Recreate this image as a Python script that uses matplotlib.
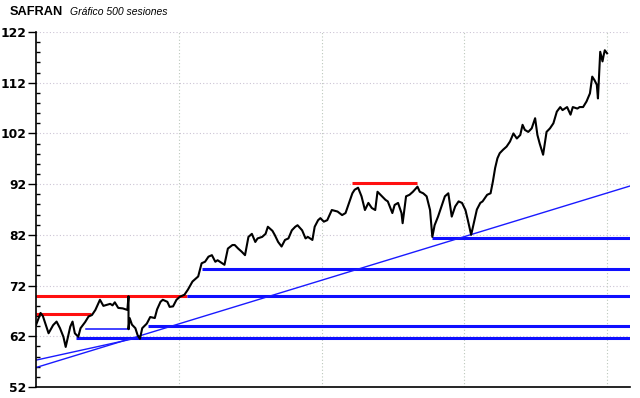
import matplotlib.pyplot as plt
from matplotlib.ticker import MultipleLocator
import numpy as np

#Price data (session number, close)
sessions = [0, 4, 6, 11, 15, 18, 21, 24, 26, 30, 32, 34, 37, 39, 43, 46, 49, 52, 56, 59,
            62, 65, 67, 69, 72, 76, 80, 81, 81, 82, 84, 87, 89, 91, 93, 97, 100, 104, 106, 109,
            111, 115, 117, 120, 123, 126, 130, 133, 137, 139, 142, 145, 148, 151, 154, 157, 159, 163, 165, 168,
            172, 174, 177, 180, 183, 186, 189, 192, 194, 198, 201, 203, 207, 209, 212, 215, 218, 221, 224, 227,
            229, 233, 236, 238, 242, 244, 247, 249, 252, 255, 259, 264, 268, 271, 273, 277, 279, 282, 285, 288,
            291, 294, 297, 299, 303, 306, 308, 312, 314, 317, 320, 321, 324, 327, 330, 334, 336, 339, 342, 345,
            347, 349, 352, 356, 358, 361, 364, 367, 370, 373, 376, 378, 381, 383, 386, 389, 391, 395, 398, 400,
            402, 404, 406, 409, 412, 415, 418, 421, 424, 426, 428, 431, 434, 437, 439, 441, 444, 447, 450, 453,
            456, 459, 461, 465, 468, 470, 474, 476, 479, 482, 485, 487, 489, 491, 492, 494, 496, 497, 498, 500]
close = [64.2, 66.6, 66.0, 62.6, 64.2, 64.9, 63.6, 61.9, 59.9, 63.9, 64.9, 62.6, 61.9, 63.6, 64.8, 65.9, 66.2, 67.2, 69.2, 68.0,
         68.2, 68.4, 68.1, 68.7, 67.6, 67.5, 67.2, 69.9, 63.4, 65.6, 64.3, 63.6, 62.2, 61.5, 63.6, 64.5, 65.8, 65.6, 67.3, 68.8,
         69.2, 68.8, 67.8, 67.9, 69.2, 69.8, 70.2, 71.2, 72.8, 73.2, 73.8, 76.4, 76.7, 77.7, 78.0, 76.7, 77.0, 76.4, 76.1, 79.3,
         80.0, 80.0, 79.3, 78.7, 78.0, 81.6, 82.2, 80.6, 81.3, 81.6, 82.2, 83.6, 82.8, 82.0, 80.6, 79.7, 81.0, 81.3, 82.9, 83.6,
         83.9, 82.9, 81.3, 81.6, 81.0, 83.6, 84.9, 85.3, 84.6, 84.9, 86.9, 86.6, 85.9, 86.3, 87.6, 90.2, 90.9, 91.3, 89.6, 86.9,
         88.3, 87.3, 86.9, 90.5, 89.6, 88.9, 88.6, 86.3, 87.9, 88.3, 86.3, 84.3, 89.6, 89.9, 90.5, 91.5, 90.5, 90.2, 89.6, 86.9,
         81.6, 83.9, 85.6, 88.3, 89.6, 90.2, 85.6, 87.6, 88.6, 88.3, 86.9, 85.0, 82.0, 84.0, 87.0, 88.3, 88.6, 89.9, 90.2, 92.5,
         95.2, 97.1, 98.1, 98.8, 99.4, 100.4, 102.0, 101.0, 101.7, 103.7, 102.7, 102.3, 103.0, 105.0, 101.7, 100.0, 97.8, 102.3, 103.0, 104.0,
         106.3, 107.2, 106.6, 107.2, 105.7, 107.2, 106.9, 107.2, 107.2, 108.3, 109.9, 113.2, 112.5, 111.6, 108.9, 118.1, 116.2, 117.4, 118.4, 117.8]

#Resistances (red): level, start, end
res_level = [66.3, 69.9, 92.3]
res_start = [0, 0, 277]
res_end = [48, 132, 334]

#Supports (blue): level, start session
sup_level = [61.66, 63.96, 69.9, 75.2, 81.3]
sup_start = [35, 98, 132, 145, 347]

#Trend lines: (start session, start value, end session, end value)
trend_s0 = [0, 0]
trend_v0 = [55.84, 57.3]
trend_s1 = [520, 89]
trend_v1 = [91.63, 61.7]

fig = plt.figure(figsize=(6.4, 3.98), dpi=100)
ax = fig.add_axes([0.05625, 0.0276, 0.928, 0.892])

ax.set_xlim(0, 520)
ax.set_ylim(52, 122)

#Grid
for yv in range(62, 123, 10):
    ax.axhline(yv, color='#ccc4d4', lw=0.8, ls=(0, (1, 2)), zorder=0)
for xv in [125, 250, 375, 500]:
    ax.axvline(xv, color='#bcc8bc', lw=0.8, ls=(0, (1, 2)), zorder=0)

#Support and resistance lines
for lv, s0, s1 in zip(res_level, res_start, res_end):
    ax.plot([s0, s1], [lv, lv], color='#ff1010', lw=2.2, solid_capstyle='butt', zorder=2)
for lv, s0 in zip(sup_level, sup_start):
    ax.plot([s0, 520], [lv, lv], color='#1010ff', lw=2.2, solid_capstyle='butt', zorder=2)
#thin support under the gap
ax.plot([44, 81], [63.4, 63.4], color='#1010ff', lw=1.1, zorder=2)

#Trend lines
for a, b, c, d in zip(trend_s0, trend_v0, trend_s1, trend_v1):
    ax.plot([a, c], [b, d], color='#1a1aff', lw=1.0, zorder=2)

#Price
ax.plot(sessions, close, color='black', lw=1.5, zorder=3)

#Axes style
ax.spines['top'].set_visible(False)
ax.spines['right'].set_visible(False)
ax.spines['left'].set_linewidth(1.2)
ax.spines['bottom'].set_linewidth(1.2)
ax.set_xticks([])
ax.set_yticks(np.arange(52, 123, 10))
ax.yaxis.set_minor_locator(MultipleLocator(2))
ax.tick_params(axis='y', which='major', direction='out', length=6, width=1, pad=1)
ax.tick_params(axis='y', which='minor', direction='in', length=3, width=1)
for lbl in ax.get_yticklabels():
    lbl.set_fontweight('bold')
    lbl.set_fontsize(8.8)

fig.text(10/640, 1 - 12/398, 'SAFRAN', fontsize=9.2, fontweight='bold', family='Liberation Sans', va='center')
fig.text(70/640, 1 - 12/398, 'Gráfico 500 sesiones', fontsize=7.5, style='italic', family='Liberation Sans', va='center')

plt.savefig('out.png', dpi=100)
